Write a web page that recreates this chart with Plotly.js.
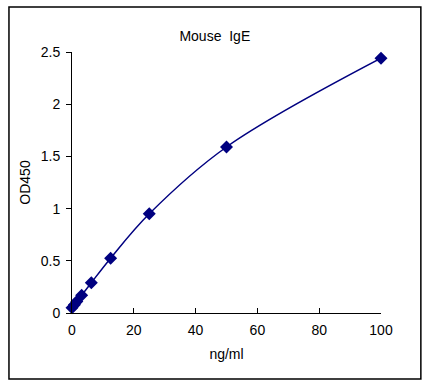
<!DOCTYPE html>
<html>
<head>
<meta charset="utf-8">
<script src="https://cdn.plot.ly/plotly-3.0.1.min.js"></script>
<style>html,body{margin:0;padding:0;background:#fff;}#chart{width:434px;height:388px;}</style>
</head>
<body>
<div id="chart"></div>
<script>
var concentration = [0, 0.78, 1.5625, 3.125, 6.25, 12.5, 25, 50, 100];
var od450 = [0.05, 0.08, 0.11, 0.17, 0.29, 0.525, 0.95, 1.59, 2.44];
var xTicks = [0, 20, 40, 60, 80, 100];
var yTicks = [0, 0.5, 1, 1.5, 2, 2.5];

var trace = {
  x: concentration,
  y: od450,
  type: 'scatter',
  mode: 'lines+markers',
  line: {color: '#000080', width: 1.5, shape: 'spline', smoothing: 1},
  marker: {symbol: 'diamond', size: 10, color: '#000080'},
  cliponaxis: false,
  hoverinfo: 'none'
};

var font = {family: '"Liberation Sans", Arial, sans-serif', size: 14, color: '#000'};

var layout = {
  width: 434, height: 388,
  margin: {l: 72, r: 53, t: 52, b: 75},
  paper_bgcolor: '#fff', plot_bgcolor: '#fff',
  showlegend: false,
  font: font,
  title: {text: 'Mouse  IgE', font: {family: font.family, size: 14, color: '#000'}, xref: 'container', x: 0.495, xanchor: 'center', yref: 'container', y: 0.908, yanchor: 'middle'},
  xaxis: {
    range: [0, 100], tickvals: xTicks, ticktext: xTicks.map(String),
    showgrid: false, zeroline: false, showline: true, linecolor: '#000', linewidth: 1,
    ticks: 'inside', ticklen: 5, tickcolor: '#000', tickfont: font, ticklabelstandoff: 4,
    title: {text: 'ng/ml', font: font, standoff: 12}
  },
  yaxis: {
    range: [0, 2.5], tickvals: yTicks, ticktext: yTicks.map(String),
    showgrid: false, zeroline: false, showline: true, linecolor: '#000', linewidth: 1,
    ticks: 'outside', ticklen: 5, tickcolor: '#000', tickfont: font, ticklabelstandoff: 3,
    title: {text: 'OD450', font: font, standoff: 6}
  },
  shapes: [{
    type: 'rect', xref: 'paper', yref: 'paper',
    x0: -0.204, x1: 1.129, y0: -0.253, y1: 1.172,
    line: {color: '#000', width: 1.5}, fillcolor: 'rgba(0,0,0,0)', layer: 'below'
  }]
};

Plotly.newPlot('chart', [trace], layout, {staticPlot: true, displayModeBar: false});
</script>
</body>
</html>
